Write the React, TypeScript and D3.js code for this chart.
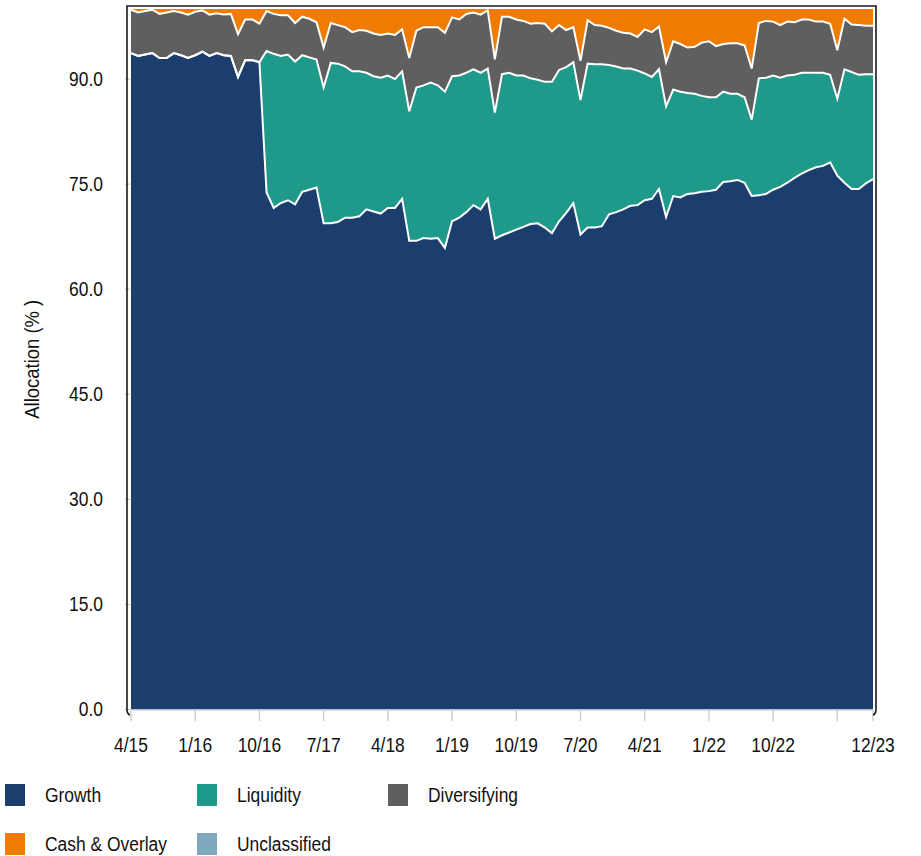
import * as d3 from "d3";

// monthly allocation (%), 4/15 .. 12/23
const growth = [
  93.7, 93.3, 93.5, 93.7, 93.0, 93.0, 93.7, 93.4, 93.0, 93.4, 93.9, 93.3, 93.7, 93.4, 93.3, 90.3, 92.7, 92.7, 92.4,
  73.8, 71.6, 72.3, 72.7, 72.1, 73.9, 74.2, 74.5, 69.4, 69.4, 69.6, 70.2, 70.2, 70.4, 71.4, 71.1, 70.8, 71.6, 71.6,
  72.9, 66.9, 66.9, 67.3, 67.2, 67.3, 65.9, 69.7, 70.2, 71.0, 72.0, 71.4, 72.9, 67.2, 67.7, 68.1, 68.5, 68.9, 69.3,
  69.4, 68.8, 68.0, 69.7, 70.9, 72.3, 67.8, 68.8, 68.8, 69.0, 70.7, 71.0, 71.4, 71.9, 72.0, 72.7, 72.9, 74.3, 70.3,
  73.3, 73.1, 73.6, 73.7, 73.9, 74.0, 74.2, 75.3, 75.4, 75.6, 75.2, 73.3, 73.4, 73.6, 74.2, 74.6, 75.2, 75.9, 76.5,
  77.0, 77.4, 77.6, 78.1, 76.2, 75.2, 74.3, 74.3, 75.1, 75.7,
];
const liquidity = [
  0, 0, 0, 0, 0, 0, 0, 0, 0, 0, 0, 0, 0, 0, 0, 0, 0, 0, 0,
  20.2, 22.0, 21.0, 20.8, 20.4, 19.5, 18.9, 18.3, 19.4, 22.9, 22.6, 21.6, 20.9, 20.7, 19.5, 19.3, 19.4, 18.9, 18.4,
  18.2, 18.5, 21.9, 21.8, 22.3, 21.8, 22.3, 20.7, 20.3, 19.9, 19.4, 19.5, 18.6, 18.0, 23.0, 22.8, 22.0, 21.6, 20.8,
  20.5, 20.8, 21.6, 21.6, 20.8, 20.1, 19.2, 23.4, 23.3, 23.1, 21.3, 20.8, 20.1, 19.6, 19.2, 18.1, 17.4, 17.1, 15.8,
  15.2, 15.1, 14.4, 14.2, 13.7, 13.4, 13.2, 12.9, 12.5, 12.3, 12.2, 10.9, 16.7, 16.6, 16.3, 15.6, 15.3, 14.7, 14.4,
  13.9, 13.5, 13.3, 12.5, 11.0, 16.2, 16.7, 16.3, 15.6, 15.0,
];
const diversifying = [
  6.2, 6.2, 6.2, 6.2, 6.3, 6.5, 6.0, 6.1, 6.2, 6.2, 5.9, 5.9, 5.7, 5.8, 6.0, 6.1, 5.8, 5.8, 5.5,
  5.7, 5.7, 5.8, 5.6, 5.5, 5.5, 5.5, 5.3, 5.7, 5.7, 5.5, 5.6, 5.6, 5.9, 6.0, 6.1, 6.1, 6.0, 6.3,
  6.0, 7.6, 8.1, 8.3, 7.9, 8.3, 8.4, 8.4, 8.0, 8.4, 8.1, 8.3, 8.3, 7.6, 8.2, 8.0, 8.0, 7.8, 7.8,
  8.1, 8.3, 7.2, 6.4, 5.3, 5.0, 5.6, 6.2, 5.6, 5.5, 5.3, 5.1, 5.1, 5.0, 4.8, 6.3, 6.4, 6.1, 6.3,
  6.9, 6.8, 6.5, 6.7, 7.6, 8.0, 7.3, 6.8, 7.2, 7.2, 7.4, 7.3, 7.9, 8.1, 7.7, 7.5, 7.7, 7.5, 7.6,
  7.6, 7.3, 7.3, 7.3, 6.9, 7.2, 6.8, 7.1, 6.9, 6.9,
];
const cashOverlay = [
  0.1, 0.5, 0.3, 0.1, 0.7, 0.5, 0.3, 0.5, 0.8, 0.4, 0.2, 0.8, 0.6, 0.8, 0.7, 3.6, 1.5, 1.5, 2.1,
  0.3, 0.7, 0.9, 0.9, 2.0, 1.1, 1.4, 1.9, 5.5, 2.0, 2.3, 2.6, 3.3, 3.0, 3.1, 3.5, 3.7, 3.5, 3.7,
  2.9, 7.0, 3.1, 2.6, 2.6, 2.6, 3.4, 1.2, 1.5, 0.7, 0.5, 0.8, 0.2, 7.2, 1.1, 1.1, 1.5, 1.7, 2.1,
  2.0, 2.1, 3.2, 2.3, 3.0, 2.6, 7.4, 1.6, 2.3, 2.4, 2.7, 3.1, 3.4, 3.5, 4.0, 2.9, 3.3, 2.5, 7.6,
  4.6, 5.0, 5.5, 5.4, 4.8, 4.6, 5.3, 5.0, 4.9, 4.9, 5.2, 8.5, 2.0, 1.7, 1.8, 2.3, 1.8, 1.9, 1.5,
  1.5, 1.8, 1.8, 2.1, 5.9, 1.4, 2.2, 2.3, 2.4, 2.4,
];
// nothing is unclassified in any month
const unclassified = new Array(growth.length).fill(0);

const seriesKeys = ["Growth", "Liquidity", "Diversifying", "Cash & Overlay", "Unclassified"];
const seriesValues = [growth, liquidity, diversifying, cashOverlay, unclassified];
const seriesColors = ["#1b3e6e", "#1f9a8a", "#5f5f5f", "#ef7b00", "#7fa7bf"];

const xTickLabels = ["4/15", "1/16", "10/16", "7/17", "4/18", "1/19", "10/19", "7/20", "4/21", "1/22", "10/22", "7/23", "12/23"];
const hiddenTickLabels = ["7/23"];
const yTicks = [0, 15, 30, 45, 60, 75, 90];

const FONT = "'Liberation Sans', Arial, sans-serif";

// narrow text: Arial squeezed horizontally, like Arial Narrow
function NText({ x, y, anchor = "start", size = 21, sx = 0.83, rotate = 0, children }: any) {
  return (
    <text
      transform={`translate(${x},${y}) rotate(${rotate}) scale(${sx},1)`}
      textAnchor={anchor}
      fontSize={size}
      fill="#111"
    >
      {children}
    </text>
  );
}

export default function App() {
  const fmt = d3.timeFormat("%-m/%y");
  const months = d3.timeMonth.range(new Date(2015, 3, 1), new Date(2024, 0, 1)).map(fmt);

  const rows = months.map((m, i) => {
    const r: any = { month: m };
    seriesKeys.forEach((k, j) => (r[k] = seriesValues[j][i]));
    return r;
  });

  const x = d3.scalePoint<string>().domain(months).range([131, 873]);
  const y = d3.scaleLinear().domain([0, 100]).range([709.5, 9]);

  const stacked = d3.stack<any>().keys(seriesKeys)(rows);

  const area = d3
    .area<any>()
    .x((d) => x(d.data.month)!)
    .y0((d) => y(d[0]))
    .y1((d) => y(d[1]));
  const topLine = d3
    .line<any>()
    .x((d) => x(d.data.month)!)
    .y((d) => y(d[1]));

  const legend = [
    { i: 0, x: 5, y: 784 },
    { i: 1, x: 197, y: 784 },
    { i: 2, x: 388, y: 784 },
    { i: 3, x: 5, y: 833 },
    { i: 4, x: 197, y: 833 },
  ];

  return (
    <>
      <style>{`body{margin:0}`}</style>
      <svg width={921} height={856} style={{ display: "block", fontFamily: FONT }}>
        <rect width={921} height={856} fill="#fff" />

        {/* areas */}
        {stacked.map((s, i) => (
          <path key={s.key} d={area(s) || ""} fill={seriesColors[i]} />
        ))}
        {/* white separators */}
        {stacked.slice(0, 3).map((s) => (
          <path key={s.key + "-l"} d={topLine(s) || ""} fill="none" stroke="#fff" strokeWidth={2} />
        ))}

        {/* x axis */}
        <line x1={131} x2={873} y1={710} y2={710} stroke="#cfcfcf" strokeWidth={1.5} />
        {xTickLabels.map((t) => (
          <g key={t}>
            <line x1={x(t)} x2={x(t)} y1={710} y2={721} stroke="#cfcfcf" strokeWidth={1.5} />
            {!hiddenTickLabels.includes(t) && (
              <NText x={x(t)} y={751.5} anchor="middle">
                {t}
              </NText>
            )}
          </g>
        ))}

        {/* y axis */}
        {yTicks.map((t) => (
          <g key={t}>
            <line x1={125} x2={130} y1={y(t)} y2={y(t)} stroke="#bbb" />
            <NText x={103} y={y(t) + 6.5} anchor="end">
              {t.toFixed(1)}
            </NText>
          </g>
        ))}
        <NText x={39} y={(y(0) + y(100)) / 2} anchor="middle" rotate={-90} size={21} sx={0.88}>
          Allocation (% )
        </NText>

        {/* frame */}
        <path
          d="M127,710 L127,6 L876,6 L876,710 M127,709 Q127,714 130,715 M876,709 Q876,714 873,715"
          fill="none"
          stroke="#1a1a1a"
          strokeWidth={1.6}
        />

        {/* legend */}
        {legend.map((l) => (
          <g key={seriesKeys[l.i]}>
            <rect x={l.x} y={l.y} width={20} height={22} fill={seriesColors[l.i]} />
            <NText x={l.x + 40} y={l.y + 17.5}>
              {seriesKeys[l.i]}
            </NText>
          </g>
        ))}
      </svg>
    </>
  );
}
